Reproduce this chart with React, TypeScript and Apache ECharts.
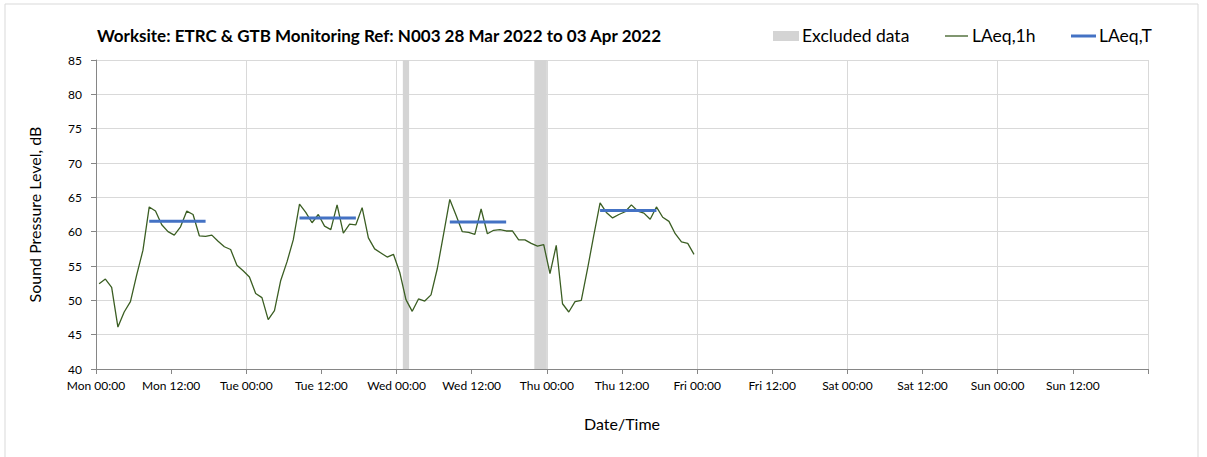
import React, { useEffect, useRef } from "react";
import * as echarts from "echarts";

const chartTitle = "Worksite: ETRC & GTB Monitoring Ref: N003 28 Mar 2022 to 03 Apr 2022";
const dayNames = ["Mon", "Tue", "Wed", "Thu", "Fri", "Sat", "Sun"];
const yAxisName = "Sound Pressure Level, dB";
const xAxisName = "Date/Time";

// hourly readings, first at Mon 00:30, one per hour
const firstReadingHour = 0.5;
const laeq1h = [
  52.4, 53.1, 51.9, 46.1, 48.3, 49.8, 53.7, 57.3, 63.6, 63.0, 61.0, 60.0,
  59.5, 60.7, 63.0, 62.5, 59.4, 59.3, 59.5, 58.6, 57.8, 57.4, 55.1, 54.3,
  53.4, 51.0, 50.4, 47.2, 48.5, 52.9, 55.6, 58.8, 64.0, 62.8, 61.3, 62.5,
  60.8, 60.3, 63.9, 59.8, 61.1, 61.0, 63.5, 59.1, 57.5, 56.9, 56.3, 56.7,
  54.1, 50.1, 48.4, 50.2, 49.9, 50.8, 54.6, 59.6, 64.7, 62.4, 60.0, 59.9,
  59.6, 63.3, 59.7, 60.2, 60.3, 60.1, 60.1, 58.8, 58.8, 58.3, 57.9, 58.1,
  53.9, 58.0, 49.5, 48.3, 49.8, 50.0, 54.6, 59.5, 64.2, 62.8, 62.0, 62.5,
  62.9, 63.9, 63.0, 62.7, 61.8, 63.6, 62.1, 61.5, 59.7, 58.5, 58.3, 56.7,
];

// LAeq,T daytime periods (hours from Mon 00:00)
const laeqTStart = [8.5, 32.5, 56.5, 80.5];
const laeqTEnd = [17.5, 41.5, 65.5, 89.5];
const laeqTValue = [61.5, 62.0, 61.4, 63.1];

// excluded data periods (hours from Mon 00:00)
const excludedStart = [49, 70];
const excludedEnd = [50, 72];

const yMin = 40;
const yMax = 85;
const yStep = 5;
const xMin = 0;
const xMax = 168;
const xStep = 12;
const xGridStep = 24;

const FONT = "Lato, 'Open Sans', sans-serif";
const GREEN = "#3b5e23";
const BLUE = "#4472c4";
const GREY_BAND = "#d4d4d4";
const GRID = "#d9d9d9";
const AXIS = "#868686";

export default function App() {
  const ref = useRef<HTMLDivElement>(null);
  useEffect(() => {
    document.body.style.margin = "0";
    if (!ref.current) return;
    const chart = echarts.init(ref.current, undefined, { renderer: "svg" });

    const lineData = laeq1h.map((v, i) => [firstReadingHour + i, v]);
    const tData: any[] = [];
    laeqTValue.forEach((v, i) => {
      tData.push([laeqTStart[i], v]);
      tData.push([laeqTEnd[i], v]);
      tData.push([laeqTEnd[i], "-"]);
    });
    const bandData = excludedStart.map((s, i) => [s, excludedEnd[i]]);

    const fmt = (v: number) => {
      if (v >= xMax) return "";
      const d = dayNames[Math.floor(v / 24)];
      const h = v % 24;
      return `${d} ${String(h).padStart(2, "0")}:00`;
    };

    chart.setOption({
      animation: false,
      textStyle: { fontFamily: FONT },
      title: {
        text: chartTitle,
        left: 92,
        top: 22,
        textStyle: { fontFamily: FONT, fontWeight: "bold", fontSize: 17, color: "#000" },
      },
      grid: { left: 96, top: 60, right: 59, bottom: 88, containLabel: false },
      xAxis: [
        {
          type: "value",
          min: xMin,
          max: xMax,
          interval: xStep,
          name: xAxisName,
          nameLocation: "middle",
          nameGap: 46,
          nameTextStyle: { fontFamily: FONT, fontSize: 16, color: "#000" },
          axisLine: { show: true, onZero: false, lineStyle: { color: AXIS, width: 1 } },
          axisTick: { show: true, length: 5, lineStyle: { color: AXIS } },
          axisLabel: { formatter: fmt, fontSize: 12, color: "#000", margin: 10, fontFamily: FONT },
          splitLine: { show: false },
        },
        {
          type: "value",
          min: xMin,
          max: xMax,
          interval: xGridStep,
          position: "bottom",
          axisLine: { show: false },
          axisTick: { show: false },
          axisLabel: { show: false },
          splitLine: { show: true, lineStyle: { color: GRID, width: 1 } },
        },
      ],
      yAxis: {
        type: "value",
        min: yMin,
        max: yMax,
        interval: yStep,
        name: yAxisName,
        nameLocation: "middle",
        nameRotate: 90,
        nameGap: 54,
        nameTextStyle: { fontFamily: FONT, fontSize: 16, color: "#000" },
        axisLine: { show: true, lineStyle: { color: AXIS, width: 1 } },
        axisTick: { show: true, length: 5, lineStyle: { color: AXIS } },
        axisLabel: { fontSize: 12, color: "#000", margin: 14, fontFamily: FONT },
        splitLine: { show: true, lineStyle: { color: GRID, width: 1 } },
      },
      graphic: [
        {
          type: "rect",
          silent: true,
          shape: { x: 5, y: 4, width: 1193, height: 470 },
          style: { fill: "none", stroke: "#d9d9d9", lineWidth: 1 },
          z: -10,
        },
        { type: "rect", shape: { x: 773, y: 31, width: 26, height: 10 }, style: { fill: GREY_BAND } },
        {
          type: "text",
          x: 802,
          y: 35,
          style: { text: "Excluded data", font: `17.5px ${FONT}`, fill: "#000", textVerticalAlign: "middle" },
        },
        { type: "line", shape: { x1: 945, y1: 36, x2: 968, y2: 36 }, style: { stroke: GREEN, lineWidth: 1.3 } },
        {
          type: "text",
          x: 972,
          y: 35,
          style: { text: "LAeq,1h", font: `17.5px ${FONT}`, fill: "#000", textVerticalAlign: "middle" },
        },
        { type: "line", shape: { x1: 1071, y1: 36, x2: 1096, y2: 36 }, style: { stroke: BLUE, lineWidth: 3 } },
        {
          type: "text",
          x: 1099,
          y: 35,
          style: { text: "LAeq,T", font: `17.5px ${FONT}`, fill: "#000", textVerticalAlign: "middle" },
        },
      ],
      series: [
        {
          name: "Excluded data",
          type: "custom",
          xAxisIndex: 0,
          z: 1,
          data: bandData,
          encode: { x: [0, 1] },
          renderItem: (params: any, api: any) => {
            const p0 = api.coord([api.value(0), yMax]);
            const p1 = api.coord([api.value(1), yMin]);
            return {
              type: "rect",
              shape: { x: p0[0], y: p0[1], width: p1[0] - p0[0], height: p1[1] - p0[1] },
              style: { fill: GREY_BAND },
            };
          },
        },
        {
          name: "LAeq,1h",
          type: "line",
          xAxisIndex: 0,
          z: 3,
          data: lineData,
          showSymbol: false,
          symbol: "none",
          lineStyle: { color: GREEN, width: 1.3 },
          itemStyle: { color: GREEN },
        },
        {
          name: "LAeq,T",
          type: "line",
          xAxisIndex: 0,
          z: 4,
          data: tData,
          connectNulls: false,
          showSymbol: false,
          symbol: "none",
          lineStyle: { color: BLUE, width: 3 },
          itemStyle: { color: BLUE },
        },
      ],
    });
    return () => chart.dispose();
  }, []);
  return <div ref={ref} style={{ width: 1207, height: 457 }} />;
}
